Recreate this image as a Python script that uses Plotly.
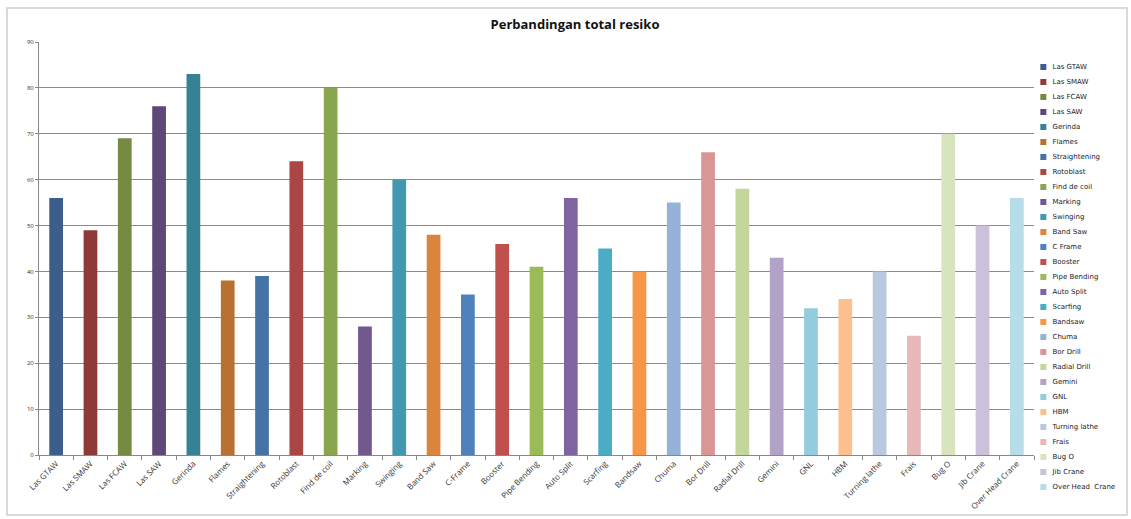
import plotly.graph_objects as go

categories = ["Las GTAW", "Las SMAW", "Las FCAW", "Las SAW", "Gerinda", "Flames",
              "Straightening", "Rotoblast", "Find de coil", "Marking", "Swinging",
              "Band Saw", "C-Frame", "Booster", "Pipe Bending", "Auto Split",
              "Scarfing", "Bandsaw", "Chuma", "Bor Drill", "Radial Drill", "Gemini",
              "GNL", "HBM", "Turning lathe", "Frais", "Bug O", "Jib Crane",
              "Over Head Crane"]
legend_names = ["Las GTAW", "Las SMAW", "Las FCAW", "Las SAW", "Gerinda", "Flames",
                "Straightening", "Rotoblast", "Find de coil", "Marking", "Swinging",
                "Band Saw", "C Frame", "Booster", "Pipe Bending", "Auto Split",
                "Scarfing", "Bandsaw", "Chuma", "Bor Drill", "Radial Drill", "Gemini",
                "GNL", "HBM", "Turning lathe", "Frais", "Bug O", "Jib Crane",
                "Over Head  Crane"]
values = [56, 49, 69, 76, 83, 38, 39, 64, 80, 28, 60, 48, 35, 46, 41, 56, 45, 40,
          55, 66, 58, 43, 32, 34, 40, 26, 70, 50, 56]
colors = ["#3B5E8C", "#8E3A38", "#748B41", "#5E4878", "#368294", "#B97133",
          "#4572A7", "#AA4643", "#89A54E", "#71588F", "#4198AF", "#DB843D",
          "#4F81BD", "#C0504D", "#9BBB59", "#8064A2", "#4BACC6", "#F79646",
          "#95B3D7", "#D99694", "#C3D69B", "#B3A2C7", "#93CDDD", "#FAC090",
          "#B9C7E0", "#E6B9B8", "#D7E4BD", "#CCC1DA", "#B7DEE8"]
y_ticks = [0, 10, 20, 30, 40, 50, 60, 70, 80, 90]

W, H = 1131, 519
ml, mr, mt, mb = 39, 4, 42, 25
pw, ph = W - ml - mr, H - mt - mb
plot_right = 1034
axis_bottom = 455
legend_left = 1038
legend_first = 67
legend_step = 15

def px_x(p):
    return (p - ml) / pw

def px_y(p):
    return (H - mb - p) / ph

fig = go.Figure()
fig.add_trace(go.Bar(x=categories, y=values, marker_color=colors,
                     marker_line_width=0, showlegend=False,
                     xaxis="x", yaxis="y"))

# legend drawn as a small key panel: one square + label per category
idx = list(range(len(legend_names)))
fig.add_trace(go.Scatter(x=[0.06] * len(idx), y=idx, mode="markers+text",
                         marker=dict(symbol="square", size=6, color=colors),
                         text=["  " + n for n in legend_names],
                         textposition="middle right",
                         textfont=dict(size=7, color="#222222", family="DejaVu Sans"),
                         showlegend=False, hoverinfo="skip",
                         xaxis="x2", yaxis="y2", cliponaxis=False))

top_idx = (mt - legend_first) / legend_step
bot_idx = (H - mb - legend_first) / legend_step

fig.update_layout(
    width=W, height=H,
    margin=dict(l=ml, r=mr, t=mt, b=mb),
    paper_bgcolor="white", plot_bgcolor="white",
    bargap=0.6,
    font=dict(family="Open Sans", color="#333333"),
    title=dict(text="<b>Perbandingan total resiko</b>", x=575 / W, xanchor="center",
               y=1 - 24 / H, yanchor="middle",
               font=dict(size=13, color="#111111", family="Open Sans")),
    xaxis=dict(domain=[0, px_x(plot_right)], categoryorder="array",
               categoryarray=categories, range=[-0.5, 28.5],
               tickangle=-45, tickfont=dict(size=8, color="#333333"),
               showline=True, linecolor="#888888", linewidth=1,
               ticks="outside", tickson="boundaries", ticklen=4,
               tickcolor="#888888", showgrid=False, anchor="y"),
    yaxis=dict(domain=[px_y(axis_bottom), 1], range=[0, 90], tickvals=y_ticks,
               tickfont=dict(size=6, color="#333333"),
               showline=True, linecolor="#888888", linewidth=1,
               ticks="outside", ticklen=3, tickcolor="#888888",
               showgrid=True, gridcolor="#8a8a8a", gridwidth=1, zeroline=False,
               anchor="x"),
    xaxis2=dict(domain=[px_x(legend_left), 1], range=[0, 1], visible=False,
                anchor="y2"),
    yaxis2=dict(domain=[0, 1], range=[bot_idx, top_idx], visible=False,
                anchor="x2"),
    showlegend=False,
    shapes=[dict(type="rect", xref="paper", yref="paper",
                 x0=px_x(7), x1=px_x(1127), y0=px_y(515), y1=px_y(8),
                 line=dict(color="#c8d0d4", width=1.5), layer="below")],
)

fig.write_html("out.html")
